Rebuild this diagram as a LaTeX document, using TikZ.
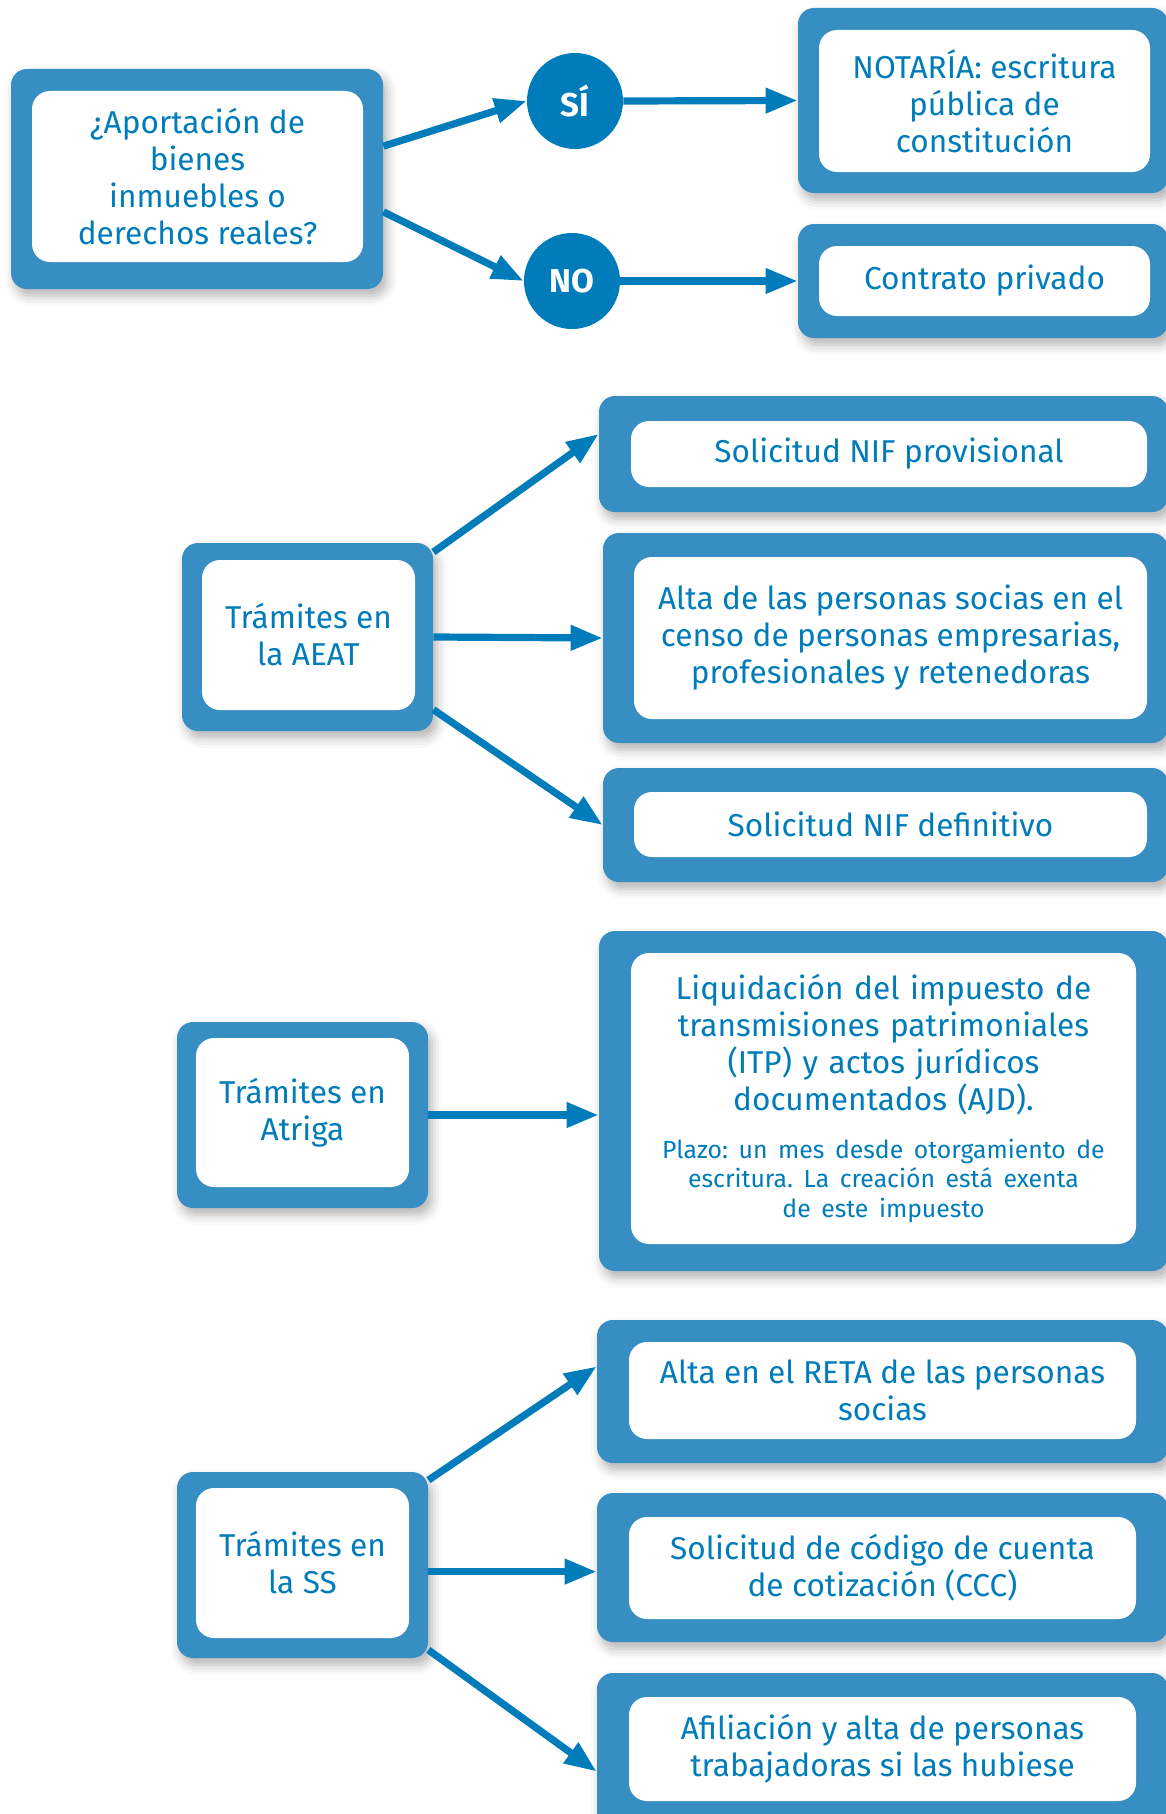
\documentclass[tikz,border=0pt]{standalone}
\usepackage{fontspec}
\setmainfont{Fira Sans}
\usetikzlibrary{arrows.meta,shadows.blur}
\definecolor{azul}{RGB}{0,124,187}
\definecolor{azulcaja}{RGB}{54,142,194}
\frenchspacing

\begin{document}
\begin{tikzpicture}[x=0.5pt,y=-0.5pt,
  marco/.style={fill=azulcaja, rounded corners=8pt, inner sep=0pt,
    blur shadow={shadow xshift=2pt, shadow yshift=-3.5pt, shadow blur radius=5pt, shadow opacity=30}},
  caja/.style={fill=white, rounded corners=9pt, inner sep=0pt, align=center, text=azul,
    font=\fontsize{15.8pt}{18.5pt}\selectfont},
  respuesta/.style={circle, fill=azul, text=white, inner sep=0pt, minimum size=48pt,
    font=\fontsize{16.5pt}{18.5pt}\selectfont\bfseries},
  flecha/.style={draw=azul, line width=3.6pt, -{Triangle[length=16pt,width=12pt]}}]

\useasboundingbox (0,0) rectangle (1166,1814);

% aportacion: notaria o contrato
\node[marco, minimum width=186pt, minimum height=110pt] (preguntam) at (197,179) {};
\node[caja, minimum width=165.5pt, minimum height=85.5pt] (pregunta) at (197.5,176.5) {¿Aportación de\\bienes\\inmuebles o\\derechos reales?};
\node[respuesta] (si) at (575,101) {SÍ};
\node[respuesta] (no) at (572,281) {NO};
\node[marco, minimum width=185pt, minimum height=92.5pt] (notariam) at (983,100.5) {};
\node[caja, minimum width=165.5pt, minimum height=71pt] (notaria) at (984.5,101) {NOTARÍA: escritura\\pública de\\constitución};
\node[marco, minimum width=185pt, minimum height=57pt] (contratom) at (983,281) {};
\node[caja, minimum width=165.5pt, minimum height=35pt] (contrato) at (984.5,281) {Contrato privado};

\draw[flecha] (preguntam.10) -- (si.west);
\draw[flecha] (preguntam.-10) -- (no.west);
\draw[flecha] (si.east) -- (notariam.west);
\draw[flecha] (no.east) -- (contratom.west);

% AEAT
\node[marco, minimum width=125.5pt, minimum height=94pt] (aeatm) at (307.5,637) {};
\node[caja, minimum width=106.5pt, minimum height=75pt] (aeat) at (308.5,635) {Trámites en\\la AEAT};
\node[marco, minimum width=284.5pt, minimum height=58pt] (nifprovm) at (883.5,454) {};
\node[caja, minimum width=258pt, minimum height=33pt] (nifprov) at (889,454) {Solicitud NIF provisional};
\node[marco, minimum width=282.5pt, minimum height=105pt] (altam) at (885.5,638) {};
\node[caja, minimum width=256.5pt, minimum height=81pt] (alta) at (890.5,638) {Alta de las personas socias en el\\censo de personas empresarias,\\profesionales y retenedoras};
\node[marco, minimum width=282.5pt, minimum height=57pt] (nifdefm) at (885.5,825) {};
\node[caja, minimum width=256.5pt, minimum height=32.5pt] (nifdef) at (890.5,824.5) {Solicitud NIF definitivo};

\draw[flecha] (aeatm.34) -- (nifprovm.176);
\draw[flecha] (aeatm.east) -- (altam.west);
\draw[flecha] (aeatm.-30) -- (nifdefm.west);

% Atriga
\node[marco, minimum width=125.5pt, minimum height=93pt] (atrigam) at (302.5,1115) {};
\node[caja, minimum width=106.5pt, minimum height=74.5pt] (atriga) at (302.5,1112.5) {Trámites en\\Atriga};
\node[marco, minimum width=284.5pt, minimum height=170pt] (liquidacionm) at (883.5,1101) {};
\node[caja, minimum width=252.5pt, minimum height=145.5pt, text width=245pt] (liquidacion) at (883.5,1098.5)
  {\centering Liquidación del impuesto de\\transmisiones patrimoniales\\(ITP) y actos jurídicos\\documentados (AJD).\par
   \vspace{9pt}{\fontsize{12.4pt}{14.75pt}\selectfont Plazo: un mes desde otorgamiento de\\escritura. La creación está exenta\\de este impuesto\par}};

\draw[flecha] (atrigam.east) -- (atrigam.east -| liquidacionm.west);

% SS
\node[marco, minimum width=125.5pt, minimum height=93pt] (ssm) at (302.5,1565) {};
\node[caja, minimum width=106.5pt, minimum height=75pt] (ss) at (302.5,1563) {Trámites en\\la SS};
\node[marco, minimum width=285.5pt, minimum height=71.5pt] (retam) at (882.5,1391.5) {};
\node[caja, minimum width=253.5pt, minimum height=48.5pt] (reta) at (882.5,1390.5) {Alta en el RETA de las personas\\socias};
\node[marco, minimum width=285.5pt, minimum height=74.5pt] (cccm) at (882.5,1567.5) {};
\node[caja, minimum width=253.5pt, minimum height=51pt] (ccc) at (882.5,1568) {Solicitud de código de cuenta\\de cotización (CCC)};
\node[marco, minimum width=285.5pt, minimum height=78.5pt] (afiliacionm) at (882.5,1751.5) {};
\node[caja, minimum width=253.5pt, minimum height=52pt] (afiliacion) at (882.5,1749) {Afiliación y alta de personas\\trabajadoras si las hubiese};

\draw[flecha] (ssm.34) -- (retam.175);
\draw[flecha] (ssm.-3) -- (ssm.-3 -| cccm.west);
\draw[flecha] (ssm.-34) -- (afiliacionm.184);
\end{tikzpicture}
\end{document}
